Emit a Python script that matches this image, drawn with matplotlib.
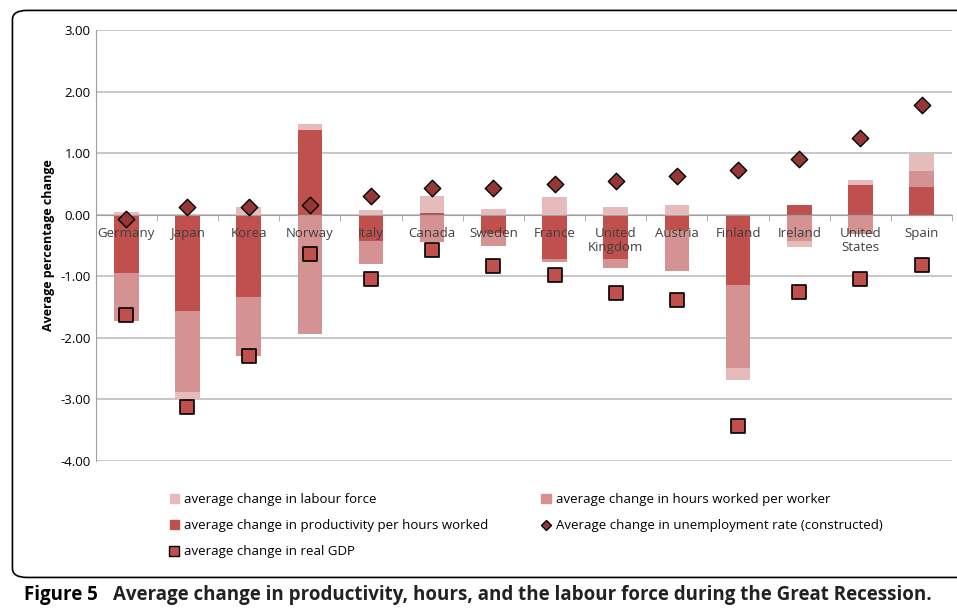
import numpy as np
import matplotlib.pyplot as plt
from matplotlib.patches import FancyBboxPatch
from matplotlib.lines import Line2D
from matplotlib.patches import Patch

countries = ['Germany', 'Japan', 'Korea', 'Norway', 'Italy', 'Canada', 'Sweden', 'France',
             'United\nKingdom', 'Austria', 'Finland', 'Ireland', 'United\nStates', 'Spain']
productivity = [-0.94, -1.57, -1.34, 1.38, -0.43, 0.02, -0.29, -0.72, -0.72, -0.25, -1.14, 0.15, 0.48, 0.45]
hours = [-0.79, -1.31, -0.95, -1.94, -0.37, -0.44, -0.21, -0.05, -0.15, -0.67, -1.35, -0.42, -0.31, 0.26]
labour = [0.05, -0.12, 0.13, 0.09, 0.08, 0.28, 0.10, 0.28, 0.13, 0.16, -0.20, -0.11, 0.09, 0.27]
unemployment = [-0.07, 0.12, 0.13, 0.16, 0.31, 0.44, 0.44, 0.50, 0.54, 0.63, 0.73, 0.90, 1.25, 1.78]
real_gdp = [-1.63, -3.13, -2.29, -0.63, -1.04, -0.57, -0.84, -0.98, -1.27, -1.39, -3.43, -1.26, -1.05, -0.81]

C_PROD = '#C0504D'
C_HOURS = '#D49392'
C_LAB = '#E5BCBB'

plt.rcParams['font.family'] = ['Open Sans', 'DejaVu Sans']

fig = plt.figure(figsize=(9.57, 6.13), dpi=100)
box = FancyBboxPatch((0.013, 0.058), 1.05, 0.925, boxstyle='round,pad=0,rounding_size=0.015',
                     transform=fig.transFigure, fill=False, lw=1.2, ec='black')
fig.patches.append(box)

ax = fig.add_axes([0.100, 0.248, 0.895, 0.703])
x = np.arange(len(countries))
pos_b = np.zeros(len(x))
neg_b = np.zeros(len(x))
for vals, col in [(productivity, C_PROD), (hours, C_HOURS), (labour, C_LAB)]:
    v = np.array(vals)
    b = np.where(v >= 0, pos_b, neg_b)
    ax.bar(x, v, 0.4, bottom=b, color=col, zorder=2)
    pos_b += np.where(v >= 0, v, 0)
    neg_b += np.where(v < 0, v, 0)

ax.scatter(x, unemployment, marker='D', s=70, c='#953735', edgecolors='black', lw=1, zorder=4)
ax.scatter(x, real_gdp, marker='s', s=90, c=C_PROD, edgecolors='black', lw=1.2, zorder=4)

ax.set_ylim(-4, 3)
ax.set_xlim(-0.5, len(x) - 0.5)
ax.set_yticks(np.arange(-4, 3.01, 1))
ax.set_yticklabels([f'{v:.2f}' for v in np.arange(-4, 3.01, 1)], fontsize=9.5)
ax.yaxis.grid(True, color='#BDBDBD', lw=1.2, zorder=0)
ax.set_axisbelow(True)
for s in ['top', 'right']:
    ax.spines[s].set_visible(False)
ax.spines['left'].set_color('#A0A0A0')
ax.spines['bottom'].set_position(('data', 0))
ax.spines['bottom'].set_color('#A0A0A0')
ax.set_xticks(x)
ax.set_xticklabels([])
ax.tick_params(axis='x', length=0)
for xi, name in zip(x, countries):
    ax.annotate(name, (xi, 0), xytext=(0, -9), textcoords='offset points', ha='center', va='top',
                fontsize=9.5, color='#404040', linespacing=1.1, zorder=5)
ax.set_xticks(np.arange(-0.5, len(x)), minor=True)
ax.tick_params(axis='x', which='minor', length=4, color='#A0A0A0')
ax.tick_params(axis='y', length=0)
ax.set_ylabel('Average percentage change', fontsize=9, fontweight='bold')

handles = [Patch(color=C_LAB), Patch(color=C_PROD),
           Line2D([], [], marker='s', ls='', mfc=C_PROD, mec='black', ms=7),
           Patch(color=C_HOURS),
           Line2D([], [], marker='D', ls='', mfc='#953735', mec='black', ms=5)]
labels = ['average change in labour force', 'average change in productivity per hours worked',
          'average change in real GDP', 'average change in hours worked per worker',
          'Average change in unemployment rate (constructed)']
fig.legend(handles, labels, ncol=2, loc='upper left', bbox_to_anchor=(0.165, 0.215),
           frameon=False, fontsize=9.5, handlelength=0.7, handleheight=0.7,
           columnspacing=4.0, labelspacing=1.0, handletextpad=0.4)

fig.text(0.025, 0.03, 'Figure 5', fontsize=13.5, fontweight='bold', va='center')
fig.text(0.118, 0.03, 'Average change in productivity, hours, and the labour force during the Great Recession.',
         fontsize=13.5, fontweight='bold', va='center', color='#222222')

fig.savefig('out.png', dpi=100)
